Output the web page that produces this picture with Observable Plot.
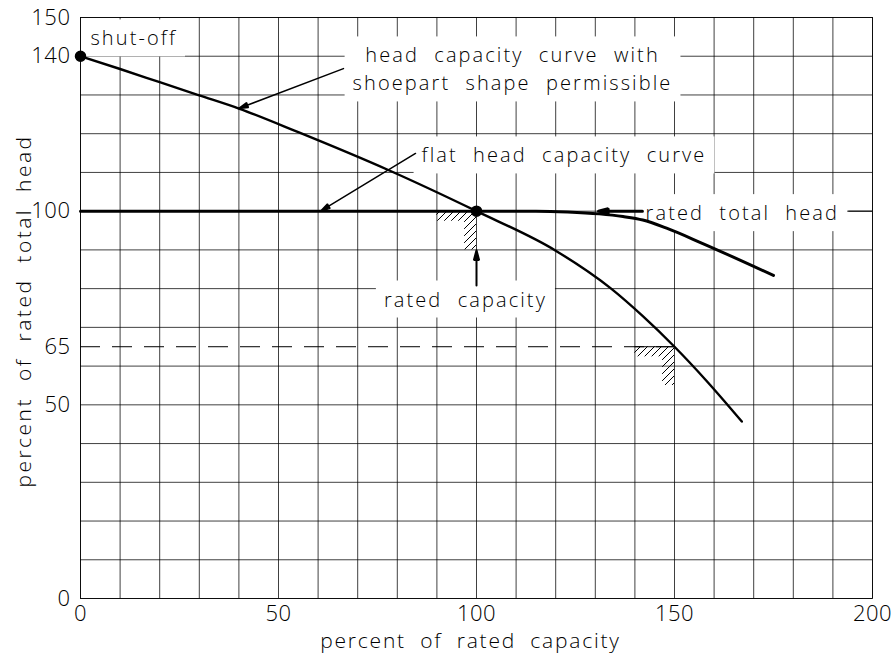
<!DOCTYPE html>
<html><head><meta charset="utf-8">
<script src="https://cdn.jsdelivr.net/npm/d3@7"></script>
<script src="https://cdn.jsdelivr.net/npm/@observablehq/plot@0.6"></script>
<style>
body{margin:0;background:#fff;}
.ann text{letter-spacing:2.1px;word-spacing:8px;}
.axx text{letter-spacing:1.8px;word-spacing:7px;}
.axy text{letter-spacing:2.5px;word-spacing:8px;}
.tk text{letter-spacing:0.5px;}
</style></head><body><div id="chart"></div>
<script>
// Head-capacity curve with shoepart shape (percent of rated capacity / head)
const shoepartCapacity = [0, 10, 20, 30, 40, 55, 78, 100, 120, 134, 142, 150, 158, 167];
const shoepartHead     = [140, 136.7, 133.3, 129.9, 126.5, 120.4, 110.5, 100, 89.8, 80, 72.9, 65, 56.3, 45.7];
// Flat head-capacity curve
const flatCapacity = [0, 60, 100, 115, 123, 131, 137, 142, 148, 157, 175];
const flatHead     = [100, 100, 100, 100, 99.8, 99.3, 98.6, 97.7, 95.6, 91.7, 83.4];
// Tick labels
const xTickValues = [0, 50, 100, 150, 200];
const yTickValues = [0, 50, 65, 100, 140, 150];
// Grid
const gridCapacity = [0,10,20,30,40,50,60,70,80,90,100,110,120,130,140,150,160,170,180,190,200];
const gridHead = [0,10,20,30,40,50,60,70,80,90,100,110,120,130,140,150];
// Key points
const keyPoints = [{capacity: 0, head: 140}, {capacity: 100, head: 100}];
const runoutHead = 65, runoutCapacity = 150;
// Annotations
const labelTexts = ["shut-off", "head capacity curve with\nshoepart shape permissible", "flat head capacity curve", "rated total head", "rated capacity"];
const labelCapacity = [2.5, 109.1, 122.1, 142.7, 97.2];
const labelHead = [145.1, 137.1, 114.9, 100, 77.7];
const labelAnchor = ["start", "middle", "middle", "start", "middle"];
const arrowFrom = [[66.4, 136.8], [84.6, 114.9], [141.9, 100], [100, 80.8]];
const arrowTo   = [[39.9, 126.5], [60.6, 100], [130.8, 100], [100, 89.9]];
const arrowWidth = [1.5, 1.5, 3, 2];
const hatchZones = [
  {x1: 90, x2: 100, y1: 97.4, y2: 100}, {x1: 97, x2: 100, y1: 90, y2: 100},
  {x1: 140, x2: 150, y1: 62.4, y2: 65}, {x1: 147, x2: 150, y1: 55, y2: 65}
];
const xLabel = "percent of rated capacity";
const yLabel = "percent of rated total head";

const shoepart = shoepartCapacity.map((c, i) => ({capacity: c, head: shoepartHead[i]}));
const flat = flatCapacity.map((c, i) => ({capacity: c, head: flatHead[i]}));
const labels = labelTexts.map((t, i) => ({text: t, capacity: labelCapacity[i], head: labelHead[i], anchor: labelAnchor[i]}));
const arrows = arrowFrom.map((f, i) => ({x1: f[0], y1: f[1], x2: arrowTo[i][0], y2: arrowTo[i][1], w: arrowWidth[i]}));

const font = "'Open Sans', 'DejaVu Sans', sans-serif";
const svg = Plot.plot({
  width: 891, height: 660,
  marginLeft: 80, marginRight: 19, marginTop: 17, marginBottom: 62,
  x: {domain: [0, 200], axis: null},
  y: {domain: [0, 150], axis: null},
  style: {fontFamily: font, fontSize: "20px", fontWeight: 300, background: "white", color: "black"},
  marks: [
    Plot.ruleX(gridCapacity, {stroke: "#000", strokeOpacity: 0.75, strokeWidth: 1}),
    Plot.ruleY(gridHead, {stroke: "#000", strokeOpacity: 0.75, strokeWidth: 1}),
    Plot.frame({stroke: "#000", strokeOpacity: 0.8}),
    Plot.ruleY([runoutHead], {x1: 0, x2: runoutCapacity, stroke: "#000", strokeWidth: 1, strokeDasharray: "20,12"}),
    Plot.ruleY([runoutHead], {x1: runoutCapacity - 10, x2: runoutCapacity, stroke: "#000", strokeWidth: 1}),
    Plot.rect(hatchZones, {x1: "x1", x2: "x2", y1: "y1", y2: "y2", fill: "url(#hatch)", className: "hatch"}),
    Plot.text(labels.filter(d => d.anchor === "start"), {x: "capacity", y: "head", text: "text", textAnchor: "start", lineHeight: 1.4, fontSize: 20, className: "ann"}),
    Plot.text(labels.filter(d => d.anchor === "middle"), {x: "capacity", y: "head", text: "text", textAnchor: "middle", lineHeight: 1.4, fontSize: 20, className: "ann"}),
    Plot.ruleY([100], {x1: 194, x2: 200, stroke: "#000", strokeWidth: 1}),
    Plot.line(flat, {x: "capacity", y: "head", curve: "monotone-x", strokeWidth: 3, stroke: "#000"}),
    Plot.line(shoepart, {x: "capacity", y: "head", curve: "monotone-x", strokeWidth: 2.4, stroke: "#000"}),
    Plot.arrow(arrows, {x1: "x1", y1: "y1", x2: "x2", y2: "y2", strokeWidth: "w", stroke: "#000", headAngle: 30, headLength: 15, className: "arr"}),
    Plot.dot(keyPoints, {x: "capacity", y: "head", r: 5, fill: "#000", stroke: "#000"}),
    Plot.text(yTickValues, {x: 0, y: d => d, dx: -10, textAnchor: "end", fontSize: 22, className: "tk"}),
    Plot.text(xTickValues, {x: d => d, y: 0, dy: 15, textAnchor: "middle", fontSize: 22, className: "tk"}),
    Plot.text([xLabel], {frameAnchor: "bottom", textAnchor: "middle", lineAnchor: "middle", dx: -6, dy: 43, fontSize: 21, className: "axx"}),
    Plot.text([yLabel], {frameAnchor: "left", textAnchor: "middle", lineAnchor: "middle", dx: -56, dy: 3, rotate: -90, fontSize: 21, className: "axy"})
  ]
});
document.getElementById("chart").appendChild(svg);

// hatch pattern definition
const ns = "http://www.w3.org/2000/svg";
const defs = document.createElementNS(ns, "defs");
const pat = document.createElementNS(ns, "pattern");
pat.setAttribute("id", "hatch");
pat.setAttribute("patternUnits", "userSpaceOnUse");
pat.setAttribute("width", "7"); pat.setAttribute("height", "7");
const pp = document.createElementNS(ns, "path");
pp.setAttribute("d", "M-1,8L8,-1M-1,1L1,-1M6,8L8,6");
pp.setAttribute("stroke", "#000"); pp.setAttribute("stroke-width", "1");
pat.appendChild(pp); defs.appendChild(pat);
svg.insertBefore(defs, svg.firstChild);
svg.querySelectorAll(".hatch rect").forEach(r => r.setAttribute("fill", "url(#hatch)"));

// filled arrowheads: close the last (head) sub-path
svg.querySelectorAll("g.arr path").forEach(p => {
  p.setAttribute("d", p.getAttribute("d") + "Z");
  p.setAttribute("fill", "#000");
  p.setAttribute("stroke-linejoin", "miter");
});

// white boxes behind annotation labels
svg.querySelectorAll("g.ann").forEach(g => {
  g.querySelectorAll("text").forEach(t => {
    const b = t.getBBox();
    const r = document.createElementNS(ns, "rect");
    const px = 8, py = 5;
    r.setAttribute("x", b.x - px); r.setAttribute("y", b.y - py);
    r.setAttribute("width", b.width + 2 * px); r.setAttribute("height", b.height + 2 * py);
    r.setAttribute("fill", "white");
    const tr = t.getAttribute("transform");
    if (tr) r.setAttribute("transform", tr);
    g.insertBefore(r, t);
  });
});
</script></body></html>
